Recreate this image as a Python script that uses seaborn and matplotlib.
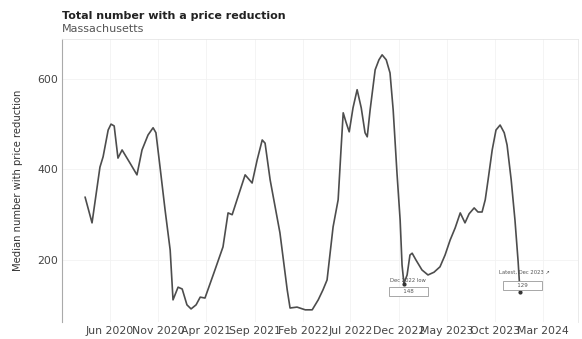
import matplotlib
matplotlib.use("Agg")
import matplotlib.pyplot as plt
import matplotlib.dates as mdates
import seaborn as sns
import pandas as pd

# Weekly-ish readings of the median number of listings with a price reduction
dates = [
    "2020-03-14", "2020-04-05", "2020-04-30", "2020-05-10", "2020-05-26", "2020-06-04",
    "2020-06-14", "2020-06-26", "2020-07-09", "2020-08-03", "2020-08-25", "2020-09-10",
    "2020-09-29", "2020-10-15", "2020-10-24", "2020-11-06", "2020-11-22", "2020-12-08",
    "2020-12-17", "2021-01-02", "2021-01-15", "2021-01-30", "2021-02-12", "2021-02-28",
    "2021-03-13", "2021-03-28", "2021-04-26", "2021-05-24", "2021-06-09", "2021-06-22",
    "2021-07-11", "2021-08-02", "2021-08-24", "2021-09-09", "2021-09-25", "2021-10-04",
    "2021-10-20", "2021-11-20", "2021-12-13", "2021-12-22", "2022-01-13", "2022-02-08",
    "2022-03-02", "2022-03-21", "2022-04-05", "2022-04-18", "2022-05-07", "2022-05-23",
    "2022-06-01", "2022-06-08", "2022-06-17", "2022-06-27", "2022-07-09", "2022-07-22",
    "2022-08-04", "2022-08-16", "2022-08-23", "2022-09-01", "2022-09-17", "2022-09-29",
    "2022-10-09", "2022-10-22", "2022-11-03", "2022-11-13", "2022-11-25", "2022-12-05",
    "2022-12-11", "2022-12-17", "2022-12-27", "2023-01-05", "2023-01-12", "2023-01-24",
    "2023-02-12", "2023-03-03", "2023-03-22", "2023-04-10", "2023-04-26", "2023-05-12",
    "2023-05-28", "2023-06-13", "2023-06-28", "2023-07-11", "2023-07-27", "2023-08-08",
    "2023-08-21", "2023-08-31", "2023-09-09", "2023-09-22", "2023-10-04", "2023-10-17",
    "2023-10-30", "2023-11-08", "2023-11-21", "2023-12-03", "2023-12-13", "2023-12-19",
]
values = [
    339, 282, 405, 428, 487, 500,
    496, 425, 443, 414, 388, 443,
    476, 492, 481, 405, 310, 222,
    112, 140, 136, 101, 92, 101,
    118, 116, 173, 229, 304, 300,
    341, 388, 370, 421, 465, 458,
    377, 260, 134, 94, 96, 90,
    90, 112, 134, 156, 273, 333,
    443, 525, 504, 483, 536, 576,
    536, 481, 472, 531, 620, 642,
    653, 642, 613, 531, 392, 288,
    189, 148, 167, 211, 215, 200,
    178, 167, 173, 185, 211, 244,
    271, 304, 282, 302, 315, 306,
    306, 333, 377, 443, 487, 498,
    481, 454, 377, 288, 196, 129,
]

# Annotated lows
note_dates = ["2022-12-17", "2023-12-19"]
note_values = [148, 129]
note_labels = ["Dec 2022 low", "Latest, Dec 2023 \u2197"]

tick_dates = pd.date_range("2020-06-01", "2024-03-01", freq="5MS")

df = pd.DataFrame({"date": pd.to_datetime(dates), "value": values})

sns.set_theme(style="whitegrid")
plt.rcParams["font.family"] = ["DejaVu Sans"]

fig = plt.figure(figsize=(5.82, 3.39), dpi=100)
ax = fig.add_axes([0.1065, 0.050, 0.8865, 0.835])

sns.lineplot(data=df, x="date", y="value", color="#4d4d4d", linewidth=1.2, ax=ax)

# Annotations for the two lows
for d, v, lab in zip(note_dates, note_values, note_labels):
    xd = pd.Timestamp(d)
    first = d.startswith("2022")
    ax.annotate(lab, xy=(xd, v), xytext=(3, 2) if first else (3, 14),
                textcoords="offset points", ha="center", va="center",
                fontsize=3.8, color="#555555")
    ax.annotate(f"       {v}       ", xy=(xd, v), xytext=(3.5, -6) if first else (1.5, 5),
                textcoords="offset points", ha="center", va="center",
                fontsize=4, color="#555555",
                bbox=dict(boxstyle="square,pad=0.35", fc="white", ec="#999999", lw=0.6))
    ax.plot([xd], [v], marker="o", ms=2, color="#333333")

ax.set_xlim(pd.Timestamp("2020-01-01"), pd.Timestamp("2024-06-19"))
ax.set_ylim(63, 688)
ax.set_yticks([200, 400, 600])
ax.set_xticks(tick_dates)
ax.xaxis.set_major_formatter(mdates.DateFormatter("%b %Y"))
ax.tick_params(axis="both", labelsize=7.8, colors="#444444", length=0, pad=3)

ax.set_xlabel("")
ax.set_ylabel("Median number with price reduction", fontsize=7.2, color="#333333", labelpad=10)

ax.grid(True, color="#f2f2f2", linewidth=0.6)
for side in ["top", "right", "bottom"]:
    ax.spines[side].set_color("#e6e6e6")
    ax.spines[side].set_linewidth(0.6)
ax.spines["left"].set_color("#aaaaaa")
ax.spines["left"].set_linewidth(0.8)
ax.spines["bottom"].set_visible(False)

fig.text(0.1065, 1 - 16 / 339, "Total number with a price reduction",
         fontsize=8, fontweight="bold", color="#222222", va="center", ha="left")
fig.text(0.1065, 1 - 29 / 339, "Massachusetts",
         fontsize=8, color="#555555", va="center", ha="left")

fig.savefig("out.png", dpi=100, facecolor="white")
